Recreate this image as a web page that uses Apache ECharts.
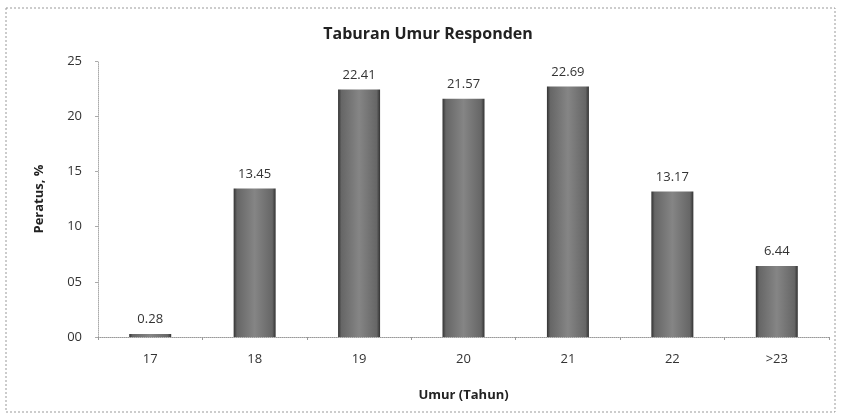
<!DOCTYPE html>
<html><head><meta charset="utf-8">
<script src="https://cdn.jsdelivr.net/npm/echarts@6/dist/echarts.min.js"></script>
<style>html,body{margin:0;padding:0;background:#fff}#c{width:841px;height:419px}</style>
</head><body><div id="c"></div>
<script>
var categories = ['17','18','19','20','21','22','>23'];
var values = [0.28, 13.45, 22.41, 21.57, 22.69, 13.17, 6.44];
var yTicks = ['00','05','10','15','20','25'];
var chart = echarts.init(document.getElementById('c'));
var ff = '"Open Sans", sans-serif';
chart.setOption({
  backgroundColor:'#fff',
  animation:false,
  title:{text:'Taburan Umur Responden', left:423, textAlign:'center', top:21,
    textStyle:{fontFamily:ff, fontSize:16, fontWeight:'bold', color:'#222'}},
  graphic:[{type:'rect', shape:{x:6,y:8,width:829,height:404},
    style:{fill:'none', stroke:'#999', lineWidth:1, lineDash:[2,2]}}],
  grid:{left:98, right:12, top:61, bottom:82},
  xAxis:{type:'category', data:categories, name:'Umur (Tahun)', nameLocation:'middle', nameGap:52,
    nameTextStyle:{fontFamily:ff, fontSize:13, fontWeight:'bold', color:'#222'},
    axisLine:{lineStyle:{color:'#999', type:'dotted'}},
    axisTick:{show:true, length:3, lineStyle:{color:'#999'}},
    axisLabel:{fontFamily:ff, fontSize:13, color:'#333', margin:16}},
  yAxis:{type:'value', min:0, max:25, interval:5, name:'Peratus, %', nameLocation:'middle', nameGap:52,
    nameTextStyle:{fontFamily:ff, fontSize:13, fontWeight:'bold', color:'#222'},
    axisLine:{show:true, lineStyle:{color:'#aaa', type:'dotted'}},
    axisTick:{show:true, length:3, lineStyle:{color:'#aaa'}},
    splitLine:{show:false},
    axisLabel:{fontFamily:ff, fontSize:13, color:'#333', margin:16,
      formatter:function(v){return yTicks[Math.round(v/5)];}}},
  series:[{type:'bar', data:values, barWidth:42,
    itemStyle:{color:new echarts.graphic.LinearGradient(0,0,1,0,[
      {offset:0,color:'#333'},{offset:0.08,color:'#666'},{offset:0.5,color:'#858585'},
      {offset:0.92,color:'#666'},{offset:1,color:'#333'}])},
    label:{show:true, position:'top', distance:8, fontFamily:ff, fontSize:13, color:'#333',
      formatter:function(p){return p.value.toFixed(2);}}}]
});
</script></body></html>
